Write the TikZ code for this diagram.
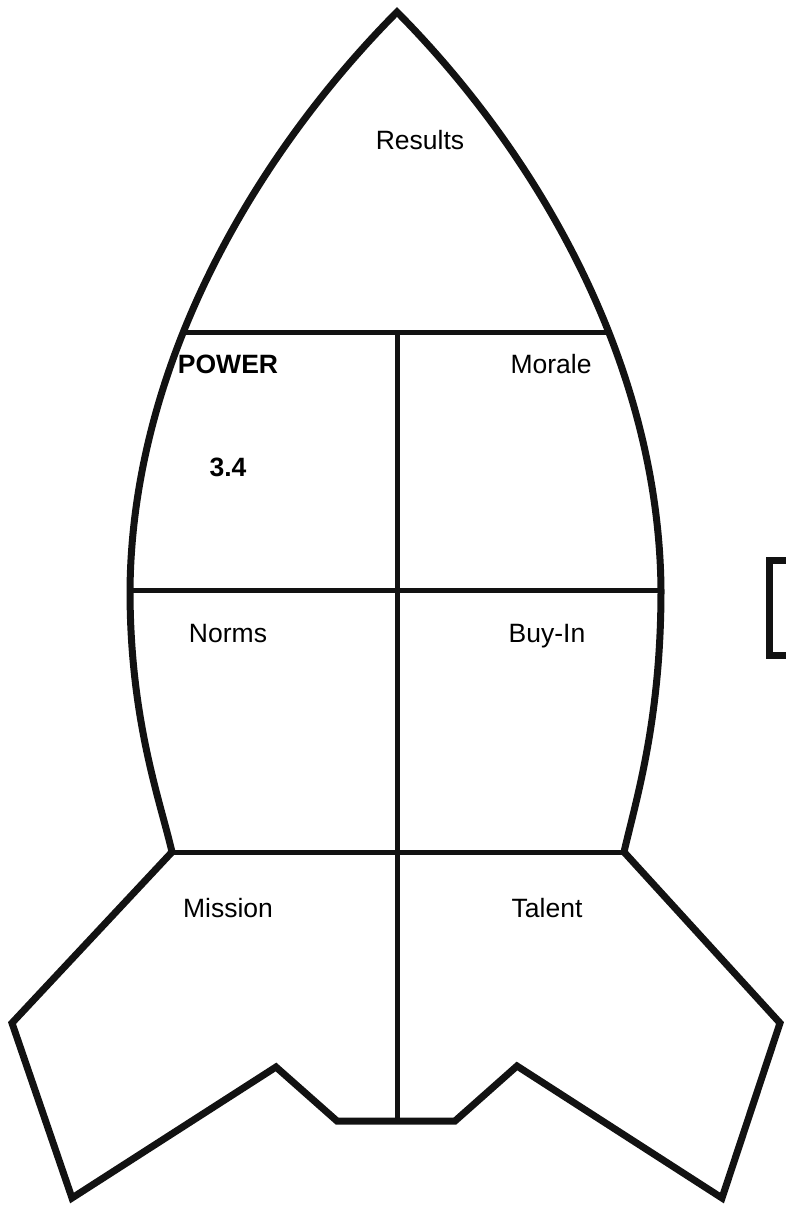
\documentclass[tikz,border=0pt]{standalone}
\usepackage{fontspec}
\setmainfont{Liberation Sans}
\tikzset{
  hull/.style={line width=7pt, draw=black!93, line join=miter},
  divider/.style={line width=5pt, draw=black!93},
  lbl/.style={font=\fontsize{26.5}{30}\selectfont, text=black, inner sep=0pt, anchor=base},
  blbl/.style={font=\fontsize{26.5}{30}\selectfont\bfseries, text=black, inner sep=0pt, anchor=base}
}
\begin{document}
\begin{tikzpicture}[x=1pt,y=-1pt]
\useasboundingbox (0,0) rectangle (786,1207);
\def\hullpath{(397,12) .. controls (260,150) and (132,360) .. (130,590)
  .. controls (130,720) and (160,800) .. (172,852)
  -- (12,1023) -- (72,1198) -- (276,1067) -- (337,1121) -- (455,1121)
  -- (517,1066) -- (722,1198) -- (780,1023) -- (624,852)
  .. controls (636,800) and (661,720) .. (661,590)
  .. controls (659,360) and (534,150) .. (397,12) -- cycle}
\begin{scope}
  \clip \hullpath;
  \draw[divider] (100,332) -- (700,332);
  \draw[divider] (100,590) -- (700,590);
  \draw[divider] (100,852) -- (700,852);
  \draw[divider] (397,332) -- (397,1130);
\end{scope}
\draw[hull] \hullpath;
\draw[hull] (790,560) -- (769,560) -- (769,655) -- (790,655);
\node[lbl] (results) at (420,149) {Results};
\node[blbl] (power) at (228,373) {POWER};
\node[blbl] (score) at (228,476) {3.4};
\node[lbl] (morale) at (551,373) {Morale};
\node[lbl] (norms) at (228,642) {Norms};
\node[lbl] (buyin) at (547,642) {Buy-In};
\node[lbl] (mission) at (228,917) {Mission};
\node[lbl] (talent) at (547,917) {Talent};
\end{tikzpicture}
\end{document}
